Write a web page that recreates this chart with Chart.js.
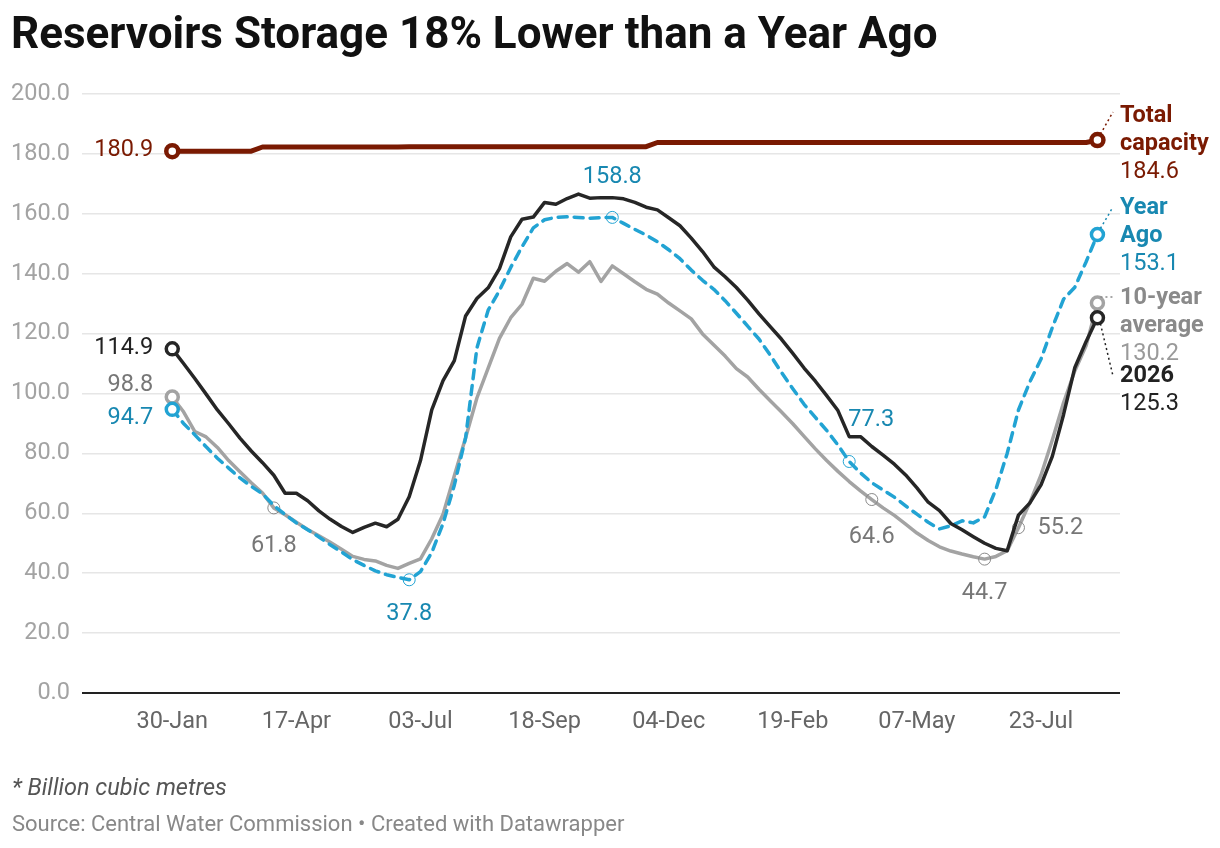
<!DOCTYPE html>
<html>
<head>
<meta charset="utf-8">
<script src="https://cdn.jsdelivr.net/npm/chart.js@4.4.1/dist/chart.umd.min.js"></script>
<style>
  html, body { margin: 0; padding: 0; background: #fff; }
  #wrap { position: relative; width: 1220px; height: 848px; font-family: Roboto, sans-serif; }
  #chart { position: absolute; left: 0; top: 0; }
  .title { position: absolute; left: 11px; top: 7px; font-size: 44px; font-weight: 700; color: #111; white-space: nowrap; }
  .note { position: absolute; left: 12px; top: 773px; font-size: 23.5px; font-style: italic; color: #555; }
  .source { position: absolute; left: 12px; top: 811px; font-size: 22px; color: #888; }
</style>
</head>
<body>
<div id="wrap">
  <canvas id="chart" width="1220" height="848"></canvas>
  <div class="title">Reservoirs Storage 18% Lower than a Year Ago</div>
  <div class="note">* Billion cubic metres</div>
  <div class="source">Source: Central Water Commission • Created with Datawrapper</div>
</div>
<script>
// weekly readings, week 0 = 30-Jan
var tickIdx = [0, 11, 22, 33, 44, 55, 66, 77];
var tickLabels = ['30-Jan', '17-Apr', '03-Jul', '18-Sep', '04-Dec', '19-Feb', '07-May', '23-Jul'];

var current = [
  114.9, 110.0, 105.0, 99.8, 94.5, 89.9, 85.1, 80.8, 76.9, 72.7,
  66.7, 66.7, 64.2, 60.8, 58.0, 55.6, 53.6, 55.3, 56.7, 55.5,
  58.0, 65.5, 77.6, 94.5, 104.3, 111.0, 125.9, 131.7, 135.3, 141.7,
  152.3, 158.2, 158.9, 163.8, 163.2, 165.1, 166.6, 165.2, 165.4, 165.4,
  165.0, 163.8, 162.2, 161.3, 158.7, 156.0, 151.9, 147.4, 142.3, 139.0,
  135.4, 131.2, 126.6, 122.3, 118.1, 113.4, 108.5, 104.1, 99.3, 94.3,
  85.6, 85.6, 82.3, 79.4, 76.4, 72.8, 68.5, 63.7, 60.9, 56.6,
  54.5, 52.2, 50.0, 48.3, 47.5, 59.4, 63.4, 69.5, 79.0, 93.0,
  108.7, 117.4, 125.3
];
var yearAgo = [
  94.7, 90.0, 86.2, 82.2, 78.4, 75.1, 71.8, 69.0, 66.5, 62.6,
  59.6, 56.8, 54.5, 52.1, 49.5, 47.1, 44.5, 42.6, 40.8, 39.5,
  38.6, 37.8, 40.5, 46.9, 56.6, 69.4, 85.2, 115.2, 127.8, 134.4,
  142.1, 149.0, 155.3, 158.0, 158.8, 159.0, 158.8, 158.5, 158.7, 158.8,
  156.8, 154.8, 152.9, 150.7, 148.0, 145.0, 141.2, 137.8, 134.8, 131.0,
  126.8, 122.5, 118.2, 112.8, 107.0, 101.6, 96.4, 92.0, 87.7, 82.8,
  77.3, 73.5, 70.2, 67.8, 65.4, 62.5, 59.7, 57.0, 54.8, 55.8,
  57.5, 56.8, 58.8, 68.0, 80.0, 94.5, 103.8, 111.5, 122.0, 131.5,
  135.5, 144.0, 153.1
];
var tenYearAvg = [
  98.8, 93.9, 87.3, 85.5, 82.0, 77.6, 73.9, 70.2, 66.8, 61.8,
  59.5, 57.0, 54.6, 52.5, 50.3, 48.0, 45.6, 44.6, 44.1, 42.6,
  41.6, 43.3, 44.8, 51.5, 59.7, 72.5, 85.2, 98.5, 108.5, 118.4,
  125.3, 129.8, 138.5, 137.5, 140.8, 143.4, 140.5, 144.0, 137.4, 142.6,
  140.0, 137.3, 134.8, 133.2, 130.2, 127.6, 124.9, 119.9, 116.2, 112.5,
  108.3, 105.5, 101.4, 97.6, 93.8, 89.9, 85.7, 81.5, 77.6, 74.0,
  70.6, 67.5, 64.6, 61.8, 59.3, 56.4, 53.4, 50.9, 48.8, 47.4,
  46.4, 45.5, 44.7, 45.6, 47.5, 55.2, 63.5, 72.8, 84.5, 97.0,
  107.6, 116.0, 130.2
];
var capacity = [
  180.9, 180.9, 180.9, 180.9, 180.9, 180.9, 180.9, 180.9, 182.3, 182.3,
  182.3, 182.3, 182.3, 182.3, 182.3, 182.3, 182.3, 182.3, 182.3, 182.3,
  182.3, 182.4, 182.4, 182.4, 182.4, 182.4, 182.4, 182.4, 182.4, 182.4,
  182.4, 182.4, 182.4, 182.4, 182.4, 182.4, 182.4, 182.4, 182.4, 182.4,
  182.4, 182.4, 182.4, 183.8, 183.8, 183.8, 183.8, 183.8, 183.8, 183.8,
  183.8, 183.8, 183.8, 183.8, 183.8, 183.8, 183.8, 183.8, 183.8, 183.8,
  183.8, 183.8, 183.8, 183.8, 183.8, 183.8, 183.8, 183.8, 183.8, 183.8,
  183.8, 183.8, 183.8, 183.8, 183.8, 183.8, 183.8, 183.8, 183.8, 183.8,
  183.8, 183.8, 184.6
];

var BLACK = '#262626', BLUE = '#22a3d3', GREY = '#a3a3a3', RED = '#7a1a02';
var BLUE_TXT = '#1888b1', GREY_TXT = '#777777';
var FS = 23.5;
var last = current.length - 1;

function xy(arr) {
  return arr.map(function(v, i) { return { x: i, y: v }; });
}

// circles: thick at the ends, thin at labelled points
function radiusFn(thin) {
  return function(ctx) {
    var i = ctx.dataIndex;
    if (i === 0 || i === last) return 6;
    return thin.indexOf(i) >= 0 ? 6 : 0;
  };
}
function borderFn(thick, thin) {
  return function(ctx) {
    var i = ctx.dataIndex;
    return (i === 0 || i === last) ? thick : thin;
  };
}
function fillFn(ctx) {
  var i = ctx.dataIndex;
  return (i === 0 || i === last) ? '#fff' : 'rgba(255,255,255,0)';
}

// inline value labels: [dataset, index, dx, dy, align, colour]
var inlineLabels = [
  [3, 0, -19, -1, 'right', RED],
  [0, 0, -19, -1, 'right', '#222'],
  [2, 0, -19, -12, 'right', GREY_TXT],
  [1, 0, -19, 9, 'right', BLUE_TXT],
  [2, 9, 0, 38, 'center', GREY_TXT],
  [1, 21, 0, 34, 'center', BLUE_TXT],
  [1, 39, 0, -40, 'center', BLUE_TXT],
  [1, 60, 22, -41, 'center', BLUE_TXT],
  [2, 62, 0, 38, 'center', GREY_TXT],
  [2, 72, 0, 34, 'center', GREY_TXT],
  [2, 75, 19, 0, 'left', GREY_TXT]
];

// end labels on the right: [dataset, lines, leader end y]
var endLabels = [
  [3, [['Total', 116, true, RED], ['capacity', 144, true, RED], ['184.6', 172, false, RED]], 112],
  [1, [['Year', 208, true, BLUE_TXT], ['Ago', 236, true, BLUE_TXT], ['153.1', 264, false, BLUE_TXT]], 207],
  [2, [['10-year', 298, true, '#8a8a8a'], ['average', 326, true, '#8a8a8a'], ['130.2', 354, false, '#9a9a9a']], 297],
  [0, [['2026', 376, true, '#222'], ['125.3', 404, false, '#222']], 376]
];

var labelPlugin = {
  id: 'labels',
  afterDatasetsDraw: function(chart) {
    var ctx = chart.ctx;
    ctx.save();
    ctx.textBaseline = 'middle';
    inlineLabels.forEach(function(l) {
      var p = chart.getDatasetMeta(l[0]).data[l[1]];
      var v = chart.data.datasets[l[0]].data[l[1]].y;
      ctx.font = FS + 'px Roboto';
      ctx.fillStyle = l[5];
      ctx.textAlign = l[4];
      ctx.fillText(v.toFixed(1), p.x + l[2], p.y + l[3]);
    });
    var right = chart.chartArea.right;
    endLabels.forEach(function(e) {
      var p = chart.getDatasetMeta(e[0]).data[last];
      var col = e[1][0][3];
      ctx.strokeStyle = col;
      ctx.lineWidth = 1.5;
      ctx.setLineDash([2, 3]);
      ctx.beginPath();
      var dir = e[2] < p.y ? -1 : 1;
      ctx.moveTo(p.x + 3, p.y + dir * 6);
      ctx.lineTo(right - 7, e[2]);
      ctx.stroke();
      ctx.setLineDash([]);
      ctx.textAlign = 'left';
      e[1].forEach(function(t) {
        ctx.font = (t[2] ? 'bold ' : '') + FS + 'px Roboto';
        ctx.fillStyle = t[3];
        ctx.fillText(t[0], right, t[1]);
      });
    });
    ctx.restore();
  }
};

new Chart(document.getElementById('chart'), {
  type: 'line',
  data: {
    datasets: [
      {
        label: '2026', data: xy(current), borderColor: BLACK, borderWidth: 3.5,
        pointRadius: radiusFn([]), pointBorderWidth: borderFn(3.5, 1),
        pointBorderColor: BLACK, pointBackgroundColor: fillFn
      },
      {
        label: 'Year Ago', data: xy(yearAgo), borderColor: BLUE, borderWidth: 3.5, borderDash: [9, 7],
        pointRadius: radiusFn([21, 39, 60]), pointBorderWidth: borderFn(3.5, 1),
        pointBorderColor: BLUE, pointBackgroundColor: fillFn
      },
      {
        label: '10-year average', data: xy(tenYearAvg), borderColor: GREY, borderWidth: 3.5,
        pointRadius: radiusFn([9, 62, 72, 75]), pointBorderWidth: borderFn(3.5, 1),
        pointBorderColor: function(ctx) {
          var i = ctx.dataIndex;
          return (i === 0 || i === last) ? GREY : '#888';
        },
        pointBackgroundColor: fillFn
      },
      {
        label: 'Total capacity', data: xy(capacity), borderColor: RED, borderWidth: 5,
        pointRadius: radiusFn([]), pointBorderWidth: borderFn(4.5, 1),
        pointBorderColor: RED, pointBackgroundColor: fillFn
      }
    ]
  },
  options: {
    responsive: false,
    animation: false,
    events: [],
    layout: { padding: { top: 94, right: 100, bottom: 95, left: 0 } },
    plugins: { legend: { display: false }, tooltip: { enabled: false } },
    elements: { line: { tension: 0, borderJoinStyle: 'round', borderCapStyle: 'round' } },
    scales: {
      x: {
        type: 'linear', min: -8, max: 84,
        afterBuildTicks: function(s) { s.ticks = tickIdx.map(function(v) { return { value: v }; }); },
        afterFit: function(s) { s.height = 60; },
        grid: { display: false },
        border: { display: false },
        ticks: {
          autoSkip: false, maxRotation: 0, padding: 7,
          color: '#666', font: { family: 'Roboto', size: FS },
          callback: function(v) { return tickLabels[tickIdx.indexOf(v)]; }
        }
      },
      y: {
        min: 0, max: 200,
        afterFit: function(s) { s.width = 82; },
        border: { display: false },
        grid: {
          drawTicks: false,
          color: function(ctx) { return ctx.tick.value === 0 ? '#222' : '#e6e6e6'; },
          lineWidth: function(ctx) { return ctx.tick.value === 0 ? 2 : 1.5; }
        },
        ticks: {
          stepSize: 20, padding: 12,
          color: '#a3a3a3', font: { family: 'Roboto', size: FS },
          callback: function(v) { return v.toFixed(1); }
        }
      }
    }
  },
  plugins: [labelPlugin]
});
</script>
</body>
</html>
